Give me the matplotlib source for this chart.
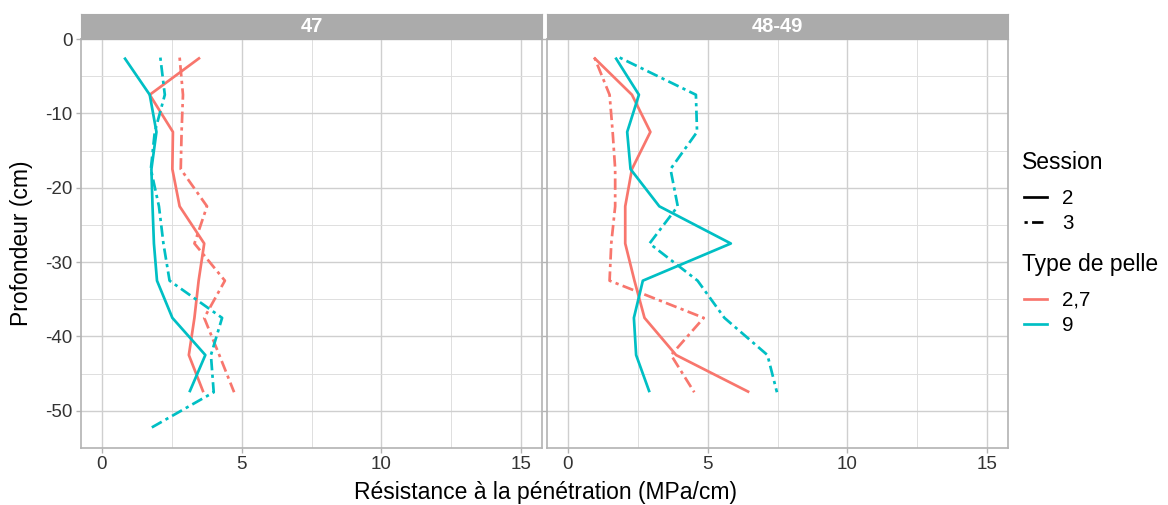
import matplotlib
matplotlib.use("Agg")
import matplotlib.pyplot as plt
from matplotlib.lines import Line2D
import numpy as np

plt.rcParams['font.family'] = ['Liberation Sans', 'DejaVu Sans']

# ---- data ----
depth = [-2.5, -7.5, -12.5, -17.5, -22.5, -27.5, -32.5, -37.5, -42.5, -47.5]
depth_ext = depth + [-52.5]
panels = ["47", "48-49"]
pelle_types = ["2,7", "9"]
sessions = ["2", "3"]

# panel 47
p47_27_s2 = [3.51, 1.71, 2.54, 2.52, 2.78, 3.66, 3.46, 3.31, 3.11, 3.63]
p47_27_s3 = [2.78, 2.90, 2.85, 2.82, 3.76, 3.31, 4.40, 3.66, 4.20, 4.73]
p47_9_s2 = [0.80, 1.71, 1.95, 1.77, 1.81, 1.86, 1.97, 2.52, 3.70, 3.13]
p47_9_s3 = [2.09, 2.25, 1.89, 1.75, 2.04, 2.20, 2.42, 4.30, 3.90, 4.00, 1.66]

# panel 48-49
p48_27_s2 = [0.93, 2.29, 2.95, 2.29, 2.05, 2.05, 2.38, 2.74, 3.87, 6.49]
p48_27_s3 = [0.95, 1.49, 1.60, 1.69, 1.69, 1.55, 1.49, 4.86, 3.69, 4.52]
p48_9_s2 = [1.70, 2.54, 2.12, 2.24, 3.27, 5.83, 2.68, 2.36, 2.44, 2.92]
p48_9_s3 = [1.85, 4.58, 4.62, 3.67, 3.93, 2.92, 4.64, 5.60, 7.14, 7.48]

x_ticks = [0, 5, 10, 15]
y_ticks = [0, -10, -20, -30, -40, -50]

# ---- style ----
W, H = 1168, 505
col = {"2,7": "#F8766D", "9": "#00BFC4"}
LW = 1.95
ls = {"2": "-", "3": (0, (1.2, 1.6, 4.2, 1.6))}
grid_major = "#CFCFCF"
grid_minor = "#DEDEDE"
border = "#B3B3B3"
strip_fill = "#ABABAB"

fig = plt.figure(figsize=(W / 100, H / 100), dpi=100)

def fx(px):
    return px / W

def fy(py):
    return 1 - py / H

ax_left, ax_right, ax_top, ax_bot = [81, 547], [542, 1008], 39, 448
strip_top = 14

data = {
    "47": [("2,7", "2", p47_27_s2), ("2,7", "3", p47_27_s3),
           ("9", "2", p47_9_s2), ("9", "3", p47_9_s3)],
    "48-49": [("2,7", "2", p48_27_s2), ("2,7", "3", p48_27_s3),
              ("9", "2", p48_9_s2), ("9", "3", p48_9_s3)],
}

axes = []
for i, pan in enumerate(panels):
    l, r = ax_left[i], ax_right[i]
    ax = fig.add_axes([fx(l), fy(ax_bot), fx(r - l), fy(ax_top) - fy(ax_bot)])
    axes.append(ax)
    ax.set_xlim(-0.75, 15.75)
    ax.set_ylim(-55, 0)
    ax.set_xticks(x_ticks)
    ax.set_xticks([2.5, 7.5, 12.5], minor=True)
    ax.set_yticks(y_ticks)
    ax.set_yticks([-5, -15, -25, -35, -45], minor=True)
    ax.grid(True, which="major", color=grid_major, lw=1.0)
    ax.grid(True, which="minor", color=grid_minor, lw=0.7)
    ax.set_axisbelow(True)
    for s in ax.spines.values():
        s.set_color(border)
        s.set_linewidth(1.2)
    ax.tick_params(which="major", length=3.5, width=1.0, color=border,
                   labelsize=13.5, labelcolor="#333333", pad=2.5)
    ax.tick_params(which="minor", length=0)
    if i == 1:
        ax.tick_params(labelleft=False)
    else:
        ax.set_yticklabels([str(v) for v in y_ticks])
    for pt, se, vals in data[pan]:
        yy = depth_ext[:len(vals)]
        ax.plot(vals, yy, color=col[pt], lw=LW, linestyle=ls[se],
                solid_capstyle="butt", dash_capstyle="butt")
    # strip
    sax = fig.add_axes([fx(l), fy(ax_top), fx(r - l), fy(strip_top) - fy(ax_top)])
    sax.set_xticks([]); sax.set_yticks([])
    sax.set_facecolor(strip_fill)
    for s in sax.spines.values():
        s.set_color(strip_fill)
    sax.text(0.5, 0.48, pan, ha="center", va="center", color="white",
             fontsize=14.5, fontweight="bold", transform=sax.transAxes)

fig.text(fx(22), (fy(ax_top) + fy(ax_bot)) / 2, "Profondeur (cm)", rotation=90,
         ha="center", va="center", fontsize=16.5, color="black")
fig.text(fx(545), fy(493), "Résistance à la pénétration (MPa/cm)",
         ha="center", va="center", fontsize=16.5, color="black")

# legends
h_sess = [Line2D([], [], color="black", lw=LW, linestyle=ls["2"]),
          Line2D([], [], color="black", lw=LW, linestyle=ls["3"])]
h_type = [Line2D([], [], color=col["2,7"], lw=LW),
          Line2D([], [], color=col["9"], lw=LW)]
common = dict(frameon=False, loc="upper left", alignment="left",
              fontsize=14.8, handlelength=1.1,
              handletextpad=0.75, labelspacing=0.3, borderpad=0,
              borderaxespad=0)
fig.text(fx(1022), fy(162), "Session", ha="left", va="center", fontsize=16.5)
fig.text(fx(1022), fy(265), "Type de pelle", ha="left", va="center", fontsize=16.5)
leg1 = fig.legend(h_sess, sessions, bbox_to_anchor=(fx(1024), fy(189)), **common)
leg2 = fig.legend(h_type, pelle_types, bbox_to_anchor=(fx(1024), fy(291)), **common)

fig.savefig("out.png", dpi=100)
